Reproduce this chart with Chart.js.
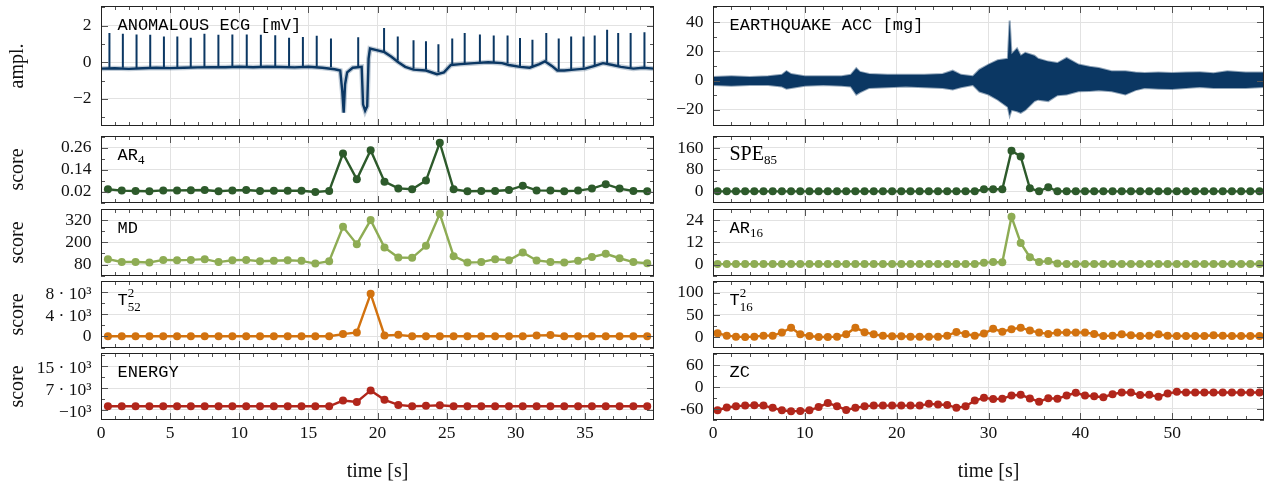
<!DOCTYPE html>
<html>
<head>
<meta charset="utf-8">
<title>anomaly scores</title>
<script src="https://cdn.jsdelivr.net/npm/chart.js@4.4.1/dist/chart.umd.min.js"></script>
<style>
  html, body { margin: 0; padding: 0; background: #fff; }
  body { width: 1274px; height: 486px; position: relative; overflow: hidden; }
  .box { position: absolute; }
</style>
</head>
<body>
<script>
// window centres (s)
const leftTime = [0.5,1.5,2.5,3.5,4.5,5.5,6.5,7.5,8.5,9.5,10.5,11.5,12.5,13.5,14.5,15.5,16.5,17.5,18.5,19.5,
  20.5,21.5,22.5,23.5,24.5,25.5,26.5,27.5,28.5,29.5,30.5,31.5,32.5,33.5,34.5,35.5,36.5,37.5,38.5,39.5];
const rightTime = [0.5,1.5,2.5,3.5,4.5,5.5,6.5,7.5,8.5,9.5,10.5,11.5,12.5,13.5,14.5,15.5,16.5,17.5,18.5,19.5,
  20.5,21.5,22.5,23.5,24.5,25.5,26.5,27.5,28.5,29.5,30.5,31.5,32.5,33.5,34.5,35.5,36.5,37.5,38.5,39.5,
  40.5,41.5,42.5,43.5,44.5,45.5,46.5,47.5,48.5,49.5,50.5,51.5,52.5,53.5,54.5,55.5,56.5,57.5,58.5,59.5];

// ECG scores
const ar4 = [0.033,0.026,0.024,0.022,0.027,0.027,0.028,0.029,0.022,0.027,0.029,0.024,0.025,0.025,0.025,0.018,0.024,0.229,0.088,0.247,
  0.075,0.038,0.033,0.081,0.288,0.033,0.022,0.024,0.024,0.029,0.053,0.027,0.026,0.022,0.026,0.037,0.061,0.037,0.024,0.022];
const md = [109,94,94,91,105,103,105,109,93,103,105,98,100,103,100,85,98,284,190,320,
  172,118,116,181,354,125,91,93,109,103,145,102,94,91,100,120,138,114,93,87];
const t2w52 = [40,40,40,40,40,40,40,40,40,40,40,40,40,40,40,40,40,430,730,7700,
  180,300,40,40,40,40,40,40,40,40,40,200,250,40,40,40,40,40,40,40];
const energy = [350,350,350,350,350,350,350,350,350,350,350,350,350,350,350,350,350,2450,1950,6150,
  2700,850,350,500,700,350,350,350,350,350,350,350,350,350,350,350,350,350,350,350];

// earthquake scores
const spe85 = [0.8,0.8,0.8,0.8,0.8,0.8,0.8,0.8,0.8,0.8,0.8,0.8,0.8,0.8,0.8,0.8,0.8,0.8,0.8,0.8,
  0.8,0.8,0.8,0.8,0.8,0.8,0.8,0.8,0.8,8.6,8.6,8.6,150,129,12,1.2,16,1.2,0.8,0.8,
  0.8,0.8,0.8,0.8,0.8,0.8,0.8,0.8,0.8,0.8,0.8,0.8,0.8,0.8,0.8,0.8,0.8,0.8,0.8,0.8];
const ar16 = [0.3,0.3,0.3,0.3,0.3,0.3,0.3,0.3,0.3,0.3,0.3,0.3,0.3,0.3,0.3,0.3,0.3,0.3,0.3,0.3,
  0.3,0.3,0.3,0.3,0.3,0.3,0.3,0.3,0.3,1.1,1.4,1.3,25.8,11.7,4.0,1.4,2.0,0.7,0.4,0.4,
  0.4,0.4,0.4,0.4,0.4,0.4,0.4,0.4,0.4,0.4,0.4,0.4,0.4,0.4,0.4,0.4,0.4,0.4,0.4,0.4];
const t2w16 = [8.5,3,0.8,0,0.8,3,3,10,21,6,2.3,0,0,0.8,6,21,11,6,3,1.5,
  1.5,0.8,0.8,0.8,0.8,3,11.5,7,3,7.7,18.5,12,17.7,21,14.6,10,7,10,10,10,
  10,7,2.3,3,6,3.8,2.3,3,6,3,2.3,2.3,2.3,2.3,3.8,3,2.3,2.3,2.3,2.3];
const zc = [-63.7,-56,-52.6,-50.8,-50,-50.8,-57,-63.7,-66.5,-65.5,-63.7,-55,-44,-52.6,-62.8,-57,-52.6,-50.8,-50.8,-50.8,
  -50.8,-50.8,-50.8,-46,-48,-49,-57,-52.6,-37,-29.5,-33,-32,-23,-21,-31,-40,-30.5,-32,-23,-15.7,
  -23,-25,-27.7,-19.4,-14.8,-14.8,-22,-21,-26.8,-17.5,-13,-14.8,-14.8,-14.8,-14.8,-14.8,-14.8,-14.8,-14.8,-14.8];

// raw ECG trace: baseline + R peaks
const ecgBaseTime = [0,1,2,3,4,5,6,7,8,9,10,11,12,13,14,15,16,16.9,17.3,17.45,17.55,17.65,17.8,18.2,
  18.85,18.95,19.1,19.25,19.35,19.45,20,20.5,21,21.5,22,22.6,23.5,24.3,24.8,25.3,26,27,28,29,29.5,
  30.3,31,31.7,32.1,32.6,33,33.5,34.2,35,35.7,36.3,37,37.6,38.5,39.2,40];
const ecgBase = [-0.35,-0.33,-0.36,-0.33,-0.3,-0.32,-0.3,-0.28,-0.27,-0.27,-0.25,-0.27,-0.25,-0.26,-0.28,-0.25,-0.3,
  -0.38,-0.45,-1.6,-2.75,-1.2,-0.55,-0.3,-0.25,-2.3,-2.65,-2.4,0.2,0.75,0.65,0.55,0.3,0.0,-0.25,-0.4,
  -0.45,-0.65,-0.55,-0.15,-0.1,-0.05,0.0,-0.05,-0.15,-0.25,-0.3,-0.1,0.05,-0.2,-0.45,-0.45,-0.4,-0.35,-0.2,
  -0.05,-0.15,-0.25,-0.35,-0.3,-0.35];
const ecgSpikeTime = [0.61,1.58,2.57,3.56,4.55,5.52,6.49,7.48,8.49,9.5,10.54,11.56,12.6,13.6,14.6,15.6,16.63,18.6,20.47,21.46,
  22.6,23.5,24.4,25.4,26.3,27.4,28.4,29.4,30.3,31.2,32.2,33.1,34.0,34.9,35.7,36.6,37.4,38.3,39.3];
const ecgSpikeFoot = [-0.3,-0.3,-0.33,-0.3,-0.28,-0.3,-0.28,-0.26,-0.25,-0.25,-0.23,-0.25,-0.23,-0.25,-0.25,-0.23,-0.28,-0.2,0.5,0.1,
  -0.35,-0.4,-0.55,-0.12,-0.08,-0.03,0.0,-0.05,-0.2,-0.25,0.08,-0.4,-0.38,-0.3,-0.2,-0.05,-0.2,-0.3,-0.28];
const ecgSpikePeak = [1.6,1.55,1.52,1.5,1.41,1.41,1.34,1.55,1.5,1.52,1.52,1.5,1.48,1.34,1.38,1.45,1.3,1.36,1.87,1.41,
  1.2,1.14,0.98,1.29,1.6,1.52,1.46,1.46,1.32,1.23,1.6,1.3,1.41,1.41,1.46,1.77,1.59,1.6,1.64];

// raw earthquake acceleration, upper / lower envelope of the trace
const quakeTime = [0,2,4,6,7.5,8,8.5,10,12,14,15,15.6,16,17,19,21,23,25,26.1,27,
  28.3,29,30,31,32.1,32.3,32.5,33.1,33.5,34,35,35.4,36.5,37.5,38.5,39.8,41,42,43.4,44.9,
  46,47,48.5,50,51.5,53,54.5,56,58,60];
const quakeUpper = [2.5,3,2.5,3,4,6.5,4.5,3,3,3,4,8.5,6,4.5,4,4,4,4.5,6.8,4,
  3,7.5,11,14,15,41,18,22,17,19,17,15,13,12,15.5,11,9.5,8.6,6.4,6.4,
  5.5,5.2,5.5,5.2,5.5,5.7,5,6.4,5.5,5.5];
const quakeLower = [-3,-3.5,-3,-3,-4,-5.5,-5,-3.5,-3,-3.5,-4,-9.5,-8,-5,-4.5,-4,-4.5,-5,-6,-4.5,
  -3,-7.5,-9.5,-13,-18,-24,-20,-21,-22,-20,-14,-13,-14,-10,-9.5,-7.3,-7,-6.6,-7.3,-9.5,
  -6.5,-5,-5.5,-5.7,-5,-4.3,-5,-5,-5,-4.3];

const xTicksLeft = [0,5,10,15,20,25,30,35];
const xTicksRight = [0,10,20,30,40,50];

const NAVY = '#0b3763', DKGREEN = '#2d5a2b', OLIVE = '#8eac54', ORANGE = '#d2720f', RED = '#b1261b';
const GRID = '#e2e2e2';
const SERIF = '"Liberation Serif", "DejaVu Serif", serif';
const MONO = '"Liberation Mono", "DejaVu Sans Mono", monospace';
const FONTS = {
  mono: '17px ' + MONO,
  rm: '20px ' + SERIF,
  sub: '13px ' + SERIF,
  sup: '13px ' + SERIF
};

const cols = [
  {left: 0, width: 660, plotL: 101, plotR: 654, xMax: 39.99, xTicks: xTicksLeft, xMinor: 1},
  {left: 660, width: 614, plotL: 53, plotR: 604, xMax: 59.99, xTicks: xTicksRight, xMinor: 2}
];
const rows = [
  {top: 6, h: 120}, {top: 136, h: 67}, {top: 209, h: 67}, {top: 281, h: 67}, {top: 353, h: 67}
];

function pts(times, vals) {
  return times.map((t, i) => ({x: t, y: vals[i]}));
}
function scoreSet(times, vals, color) {
  return {data: pts(times, vals), borderColor: color, backgroundColor: color, borderWidth: 2.4,
    pointRadius: 4, pointBorderWidth: 0, pointHoverRadius: 4};
}

function drawRich(ctx, x, y, parts) {
  let cx = x, supStart = null;
  const hasSup = parts.some(p => p[1] === 'sup');
  parts.forEach(([txt, st]) => {
    ctx.font = FONTS[st];
    let dy = 0;
    if (st === 'sub') dy = hasSup ? 6 : 4;
    if (st === 'sup') dy = -8;
    if (st === 'sub' && supStart !== null) cx = supStart;
    if (st === 'sup') supStart = cx;
    ctx.fillText(txt, cx, y + dy);
    if (st !== 'sup') cx += ctx.measureText(txt).width;
  });
}

const panelDeco = {
  id: 'panelDeco',
  afterDraw(chart, args, o) {
    const ctx = chart.ctx, a = chart.chartArea;
    const xs = chart.scales.x, ys = chart.scales.y;
    ctx.save();
    // inward tick marks
    ctx.strokeStyle = '#555';
    ctx.lineWidth = 1;
    ctx.beginPath();
    for (let v = 0; v <= xs.max + 1e-9; v += o.xMinor) {
      const len = o.xTicks.includes(v) ? 7 : 4;
      const px = Math.round(xs.getPixelForValue(v)) + 0.5;
      ctx.moveTo(px, a.top); ctx.lineTo(px, a.top + len);
      ctx.moveTo(px, a.bottom); ctx.lineTo(px, a.bottom - len);
    }
    const step = o.yTicks[1] - o.yTicks[0];
    for (let k = -8; k <= o.yTicks.length * 2 + 8; k++) {
      const v = o.yTicks[0] + k * step / 2;
      if (v <= ys.min || v >= ys.max) continue;
      const len = k % 2 === 0 ? 7 : 4;
      const py = Math.round(ys.getPixelForValue(v)) + 0.5;
      ctx.moveTo(a.left, py); ctx.lineTo(a.left + len, py);
      ctx.moveTo(a.right, py); ctx.lineTo(a.right - len, py);
    }
    ctx.stroke();
    // frame
    ctx.strokeStyle = '#222';
    ctx.strokeRect(a.left + 0.5, a.top + 0.5, a.right - a.left - 1, a.bottom - a.top - 1);

    ctx.fillStyle = '#111';
    // y tick labels
    ctx.font = '17.5px ' + SERIF;
    ctx.textAlign = 'right';
    ctx.textBaseline = 'middle';
    o.yTicks.forEach((v, i) => {
      const lab = o.yLabels[i];
      const dy = lab.includes('³') ? 2 : 0;
      ctx.fillText(lab, a.left - 9.5, ys.getPixelForValue(v) + dy);
    });
    // x tick labels + title on the bottom row
    if (o.bottom) {
      ctx.textAlign = 'center';
      o.xTicks.forEach(v => ctx.fillText(String(v), xs.getPixelForValue(v), a.bottom + 13.5));
      ctx.font = '20px ' + SERIF;
      ctx.fillText('time [s]', (a.left + a.right) / 2, a.bottom + 52);
    }
    // y title
    if (o.yTitle) {
      ctx.save();
      ctx.font = '20px ' + SERIF;
      ctx.textAlign = 'center';
      ctx.textBaseline = 'middle';
      ctx.translate(18, (a.top + a.bottom) / 2);
      ctx.rotate(-Math.PI / 2);
      ctx.fillText(o.yTitle, 0, 0);
      ctx.restore();
    }
    // panel name
    ctx.textAlign = 'left';
    ctx.textBaseline = 'alphabetic';
    ctx.fillStyle = '#000';
    drawRich(ctx, a.left + 16.5, a.top + 24, o.label);
    ctx.restore();
  }
};

const ecgSpikes = ecgSpikeTime.flatMap((t, i) => [{x: t, y: ecgSpikeFoot[i]}, {x: t, y: ecgSpikePeak[i]}, {x: t, y: null}]);

const panels = [
  {col: 0, row: 0, yMin: -3.48, yMax: 3.07, yTicks: [-2, 0, 2], yLabels: ['−2', '0', '2'],
    yTitle: 'ampl.', label: [['ANOMALOUS ECG [mV]', 'mono']],
    datasets: [
      {data: pts(ecgBaseTime, ecgBase), borderColor: 'rgba(11,55,99,0.25)', borderWidth: 5, pointRadius: 0},
      {data: pts(ecgBaseTime, ecgBase), borderColor: NAVY, borderWidth: 2.4, pointRadius: 0},
      {data: ecgSpikes, borderColor: NAVY, borderWidth: 2, pointRadius: 0, spanGaps: false}
    ]},
  {col: 0, row: 1, yMin: -0.042, yMax: 0.325, yTicks: [0.02, 0.14, 0.26], yLabels: ['0.02', '0.14', '0.26'],
    yTitle: 'score', label: [['AR', 'mono'], ['4', 'sub']], datasets: [scoreSet(leftTime, ar4, DKGREEN)]},
  {col: 0, row: 2, yMin: 18, yMax: 380, yTicks: [80, 200, 320], yLabels: ['80', '200', '320'],
    yTitle: 'score', label: [['MD', 'mono']], datasets: [scoreSet(leftTime, md, OLIVE)]},
  {col: 0, row: 3, yMin: -2076, yMax: 10015, yTicks: [0, 4000, 8000], yLabels: ['0', '4 · 10³', '8 · 10³'],
    yTitle: 'score', label: [['T', 'mono'], ['2', 'sup'], ['52', 'sub']], datasets: [scoreSet(leftTime, t2w52, ORANGE)]},
  {col: 0, row: 4, yMin: -4700, yMax: 19900, yTicks: [-1000, 7000, 15000], yLabels: ['−10³', '7 · 10³', '15 · 10³'],
    yTitle: 'score', label: [['ENERGY', 'mono']], datasets: [scoreSet(leftTime, energy, RED)]},

  {col: 1, row: 0, yMin: -31, yMax: 51, yTicks: [-20, 0, 20, 40], yLabels: ['−20', '0', '20', '40'],
    label: [['EARTHQUAKE ACC [mg]', 'mono']],
    datasets: [
      {data: pts(quakeTime, quakeUpper), borderColor: 'rgba(11,55,99,0.45)', backgroundColor: NAVY,
        borderWidth: 2, pointRadius: 0, fill: '+1'},
      {data: pts(quakeTime, quakeLower), borderColor: 'rgba(11,55,99,0.45)', borderWidth: 2, pointRadius: 0, fill: false}
    ]},
  {col: 1, row: 1, yMin: -42, yMax: 204, yTicks: [0, 80, 160], yLabels: ['0', '80', '160'],
    label: [['SPE', 'rm'], ['85', 'sub']], datasets: [scoreSet(rightTime, spe85, DKGREEN)]},
  {col: 1, row: 2, yMin: -6.1, yMax: 30, yTicks: [0, 12, 24], yLabels: ['0', '12', '24'],
    label: [['AR', 'mono'], ['16', 'sub']], datasets: [scoreSet(rightTime, ar16, OLIVE)]},
  {col: 1, row: 3, yMin: -25, yMax: 127, yTicks: [0, 50, 100], yLabels: ['0', '50', '100'],
    label: [['T', 'mono'], ['2', 'sup'], ['16', 'sub']], datasets: [scoreSet(rightTime, t2w16, ORANGE)]},
  {col: 1, row: 4, yMin: -90.5, yMax: 94, yTicks: [-60, 0, 60], yLabels: ['-60', '0', '60'],
    label: [['ZC', 'mono']], datasets: [scoreSet(rightTime, zc, RED)]}
];

panels.forEach(p => {
  const col = cols[p.col], row = rows[p.row];
  const bottom = p.row === 4;
  const padTop = 4;
  const padBottom = bottom ? 486 - (row.top + row.h) : 4;
  const div = document.createElement('div');
  div.className = 'box';
  div.style.left = col.left + 'px';
  div.style.top = (row.top - padTop) + 'px';
  div.style.width = col.width + 'px';
  div.style.height = (row.h + padTop + padBottom) + 'px';
  const cv = document.createElement('canvas');
  div.appendChild(cv);
  document.body.appendChild(div);

  new Chart(cv, {
    type: 'line',
    data: {datasets: p.datasets},
    options: {
      responsive: true,
      maintainAspectRatio: false,
      animation: false,
      devicePixelRatio: 1,
      layout: {padding: {left: col.plotL, right: col.width - col.plotR, top: padTop, bottom: padBottom}},
      elements: {line: {tension: 0}},
      plugins: {
        legend: {display: false},
        tooltip: {enabled: false},
        panelDeco: {xTicks: col.xTicks, xMinor: col.xMinor, yTicks: p.yTicks, yLabels: p.yLabels,
          yTitle: p.yTitle, label: p.label, bottom: bottom}
      },
      scales: {
        x: {
          type: 'linear', min: 0, max: col.xMax,
          afterBuildTicks: s => { s.ticks = col.xTicks.map(v => ({value: v})); },
          ticks: {display: false},
          grid: {color: GRID, drawTicks: false},
          border: {display: false}
        },
        y: {
          type: 'linear', min: p.yMin, max: p.yMax,
          afterBuildTicks: s => { s.ticks = p.yTicks.map(v => ({value: v})); },
          ticks: {display: false},
          grid: {color: GRID, drawTicks: false},
          border: {display: false}
        }
      }
    },
    plugins: [panelDeco]
  });
});
</script>
</body>
</html>
